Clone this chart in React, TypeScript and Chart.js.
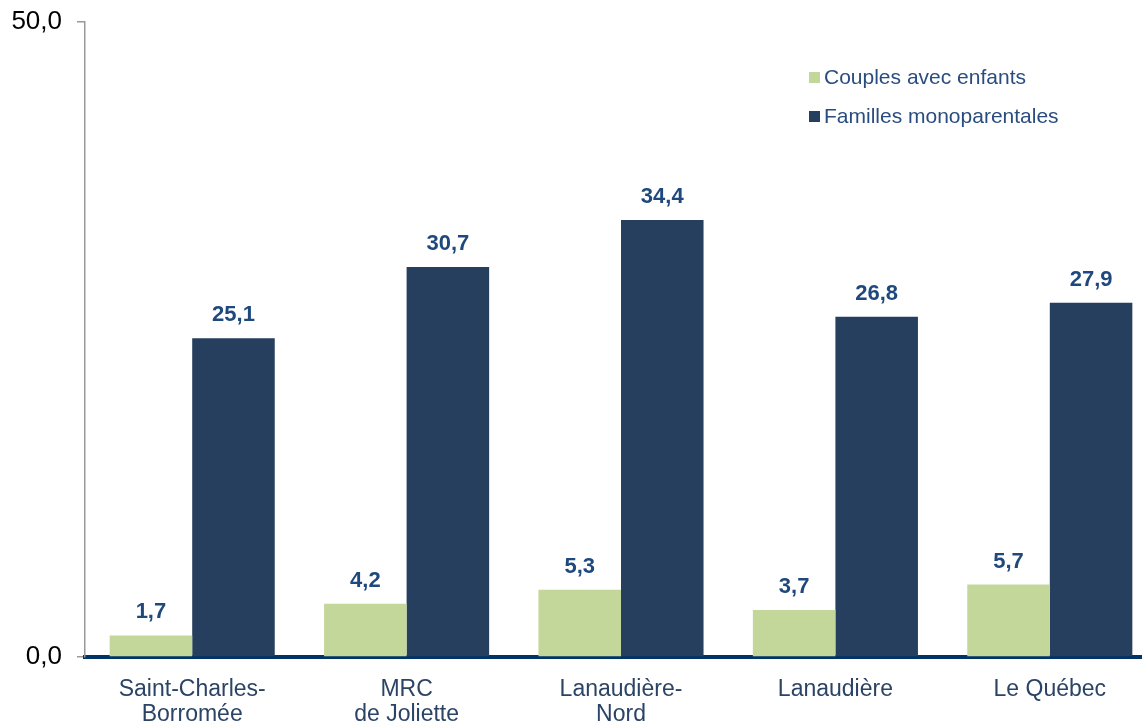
import React, { useEffect, useRef } from "react";
import { Chart, registerables } from "chart.js";

Chart.register(...registerables);

const categories: string[][] = [
  ["Saint-Charles-", "Borromée"],
  ["MRC", "de Joliette"],
  ["Lanaudière-", "Nord"],
  ["Lanaudière"],
  ["Le Québec"],
];
const seriesNames = ["Couples avec enfants", "Familles monoparentales"];
const couplesValues = [1.7, 4.2, 5.3, 3.7, 5.7];
const monoValues = [25.1, 30.7, 34.4, 26.8, 27.9];
const yTicks = [0, 50];

const FONT = "'Liberation Sans', Arial, sans-serif";
const GREEN = "#C4D79B";
const NAVY = "#273F5F";

const fmt = (v: number) => v.toFixed(1).replace(".", ",");

const valueLabels = {
  id: "valueLabels",
  afterDatasetsDraw(chart: any) {
    const ctx = chart.ctx;
    ctx.save();
    ctx.font = `bold 22px ${FONT}`;
    ctx.fillStyle = "#1F497D";
    ctx.textAlign = "center";
    ctx.textBaseline = "alphabetic";
    chart.data.datasets.forEach((ds: any, di: number) => {
      const meta = chart.getDatasetMeta(di);
      meta.data.forEach((el: any, i: number) => {
        ctx.fillText(fmt(ds.data[i]), el.x, el.y - 17);
      });
    });
    ctx.restore();
  },
};

const customLegend = {
  id: "customLegend",
  afterDraw(chart: any) {
    const ctx = chart.ctx;
    ctx.save();
    ctx.font = `21px ${FONT}`;
    ctx.textBaseline = "middle";
    ctx.textAlign = "left";
    const rows = [77.5, 116.5];
    chart.data.datasets.forEach((ds: any, i: number) => {
      const y = rows[i];
      ctx.fillStyle = ds.backgroundColor;
      ctx.fillRect(809, y - 5.5, 11, 11);
      ctx.fillStyle = "#2A4D7F";
      ctx.fillText(ds.label, 824, y + 1);
    });
    ctx.restore();
  },
};

export default function App() {
  const ref = useRef<HTMLCanvasElement | null>(null);
  useEffect(() => {
    if (!ref.current) return;
    const chart = new Chart(ref.current, {
      type: "bar",
      data: {
        labels: categories,
        datasets: [
          {
            label: seriesNames[0],
            data: couplesValues,
            backgroundColor: GREEN,
            categoryPercentage: 0.77,
            barPercentage: 1.0,
          },
          {
            label: seriesNames[1],
            data: monoValues,
            backgroundColor: NAVY,
            categoryPercentage: 0.77,
            barPercentage: 1.0,
          },
        ],
      },
      options: {
        responsive: false,
        animation: false,
        layout: { padding: { top: 22, right: 1, left: 0, bottom: 0 } },
        plugins: {
          legend: { display: false },
          tooltip: { enabled: false },
        },
        scales: {
          x: {
            z: 1,
            grid: { display: false, drawTicks: false },
            border: { display: true, color: "#003366", width: 4 },
            ticks: {
              color: "#2B4466",
              font: { family: FONT, size: 23, lineHeight: 1.05 },
              padding: 21,
              maxRotation: 0,
              autoSkip: false,
            },
            afterFit: (s: any) => {
              s.height = 64;
              s.paddingLeft = 0;
              s.paddingRight = 0;
            },
          },
          y: {
            min: yTicks[0],
            max: yTicks[1],
            afterBuildTicks: (s: any) => {
              s.ticks = yTicks.map((v) => ({ value: v }));
            },
            grid: {
              drawOnChartArea: false,
              drawTicks: true,
              tickLength: 8,
              color: "#999999",
              lineWidth: 1.5,
            },
            border: { display: true, color: "#999999", width: 1.5 },
            ticks: {
              color: "#000000",
              font: { family: FONT, size: 26 },
              padding: 15,
              callback: (v: any) => fmt(Number(v)),
            },
            afterFit: (s: any) => {
              s.width = 85;
              s.paddingTop = 0;
              s.paddingBottom = 0;
            },
          },
        },
      },
      plugins: [valueLabels, customLegend],
    });
    return () => chart.destroy();
  }, []);
  return (
    <div
      style={{
        position: "fixed",
        left: 0,
        top: 0,
        width: 1142,
        height: 721,
        overflow: "hidden",
        background: "#fff",
      }}
    >
      <canvas ref={ref} width={1158} height={721} style={{ display: "block" }} />
    </div>
  );
}
